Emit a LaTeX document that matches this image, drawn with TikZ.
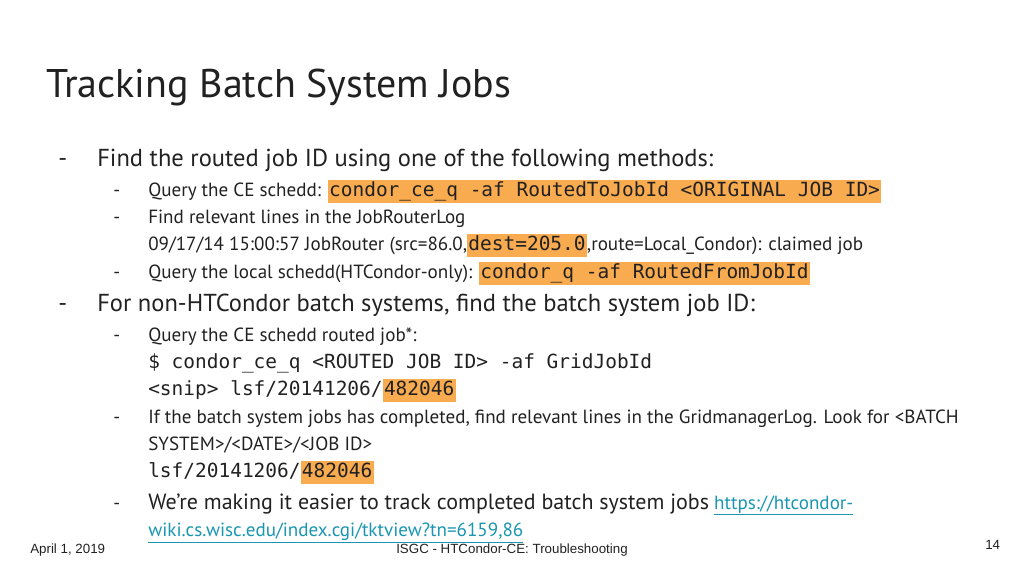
\documentclass[tikz,border=0pt]{standalone}
\usepackage{fontspec}
\setmainfont{PT Sans}
\setmonofont{DejaVu Sans Mono}
\newfontfamily\footfont{Liberation Sans}
\usetikzlibrary{positioning}
\definecolor{hilite}{RGB}{249,171,80}
\definecolor{linkcol}{RGB}{26,150,176}
\definecolor{titlecol}{RGB}{33,33,33}
\newcommand{\hl}[1]{{\setlength{\fboxsep}{1pt}\colorbox{hilite}{\strut#1}}}
\newcommand{\code}[1]{{\ttfamily\fontsize{14.6}{15}\selectfont #1}}
\newcommand{\us}{\symbol{95}}
\begin{document}
\begin{tikzpicture}[x=0.75pt,y=-0.75pt,
  lvlone/.style={anchor=base west, inner sep=0pt, font=\fontsize{18.4}{20}\selectfont, text=titlecol},
  lvltwo/.style={anchor=base west, inner sep=0pt, font=\fontsize{14.3}{15}\selectfont, text=titlecol},
  foot/.style={inner sep=0pt, font=\footfont\fontsize{10}{12}\selectfont, text=titlecol}]

  \useasboundingbox (0,0) rectangle (1024,576);

  % Title
  \node[anchor=base west, inner sep=0pt, font=\fontsize{30}{32}\selectfont, text=titlecol] (title) at (46,97) {Tracking Batch System Jobs};

  % First bullet
  \node[lvlone] (dashA) at (58,166) {-};
  \node[lvlone] (findid) at (97,166) {Find the routed job ID using one of the following methods:};
  \node[lvltwo] (dashA1) at (113,196) {-};
  \node[lvltwo] (queryce) at (148,196) {Query the CE schedd: \hl{\code{condor\us ce\us q -af RoutedToJobId <ORIGINAL JOB ID>}}};
  \node[lvltwo] (dashA2) at (113,223) {-};
  \node[lvltwo] (findlog) at (148,223) {Find relevant lines in the JobRouterLog};
  \node[lvltwo] (logline) at (148,250) {09/17/14 15:00:57 JobRouter (src=86.0,\hl{\code{dest=205.0}},route=Local\_Condor): claimed job};
  \node[lvltwo] (dashA3) at (113,278) {-};
  \node[lvltwo] (querylocal) at (148,278) {Query the local schedd(HTCondor-only): \hl{\code{condor\us q -af RoutedFromJobId}}};

  % Second bullet
  \node[lvlone] (dashB) at (58,311) {-};
  \node[lvlone] (nonht) at (97,311) {For non-HTCondor batch systems, find the batch system job ID:};
  \node[lvltwo] (dashB1) at (113,341) {-};
  \node[lvltwo] (queryrouted) at (148,341) {Query the CE schedd routed job*:};
  \node[lvltwo] (cmdline) at (148,368) {\code{\$ condor\us ce\us q <ROUTED JOB ID> -af GridJobId}};
  \node[lvltwo] (snipline) at (148,395) {\code{<snip> lsf/20141206/}\hl{\code{482046}}};
  \node[lvltwo] (dashB2) at (113,423) {-};
  \node[lvltwo] (gridlog) at (148,423) {If the batch system jobs has completed, find relevant lines in the GridmanagerLog. Look for <BATCH};
  \node[lvltwo] (gridlogb) at (148,450) {SYSTEM>/<DATE>/<JOB ID>};
  \node[lvltwo] (lsfline) at (148,477) {\code{lsf/20141206/}\hl{\code{482046}}};
  \node[lvltwo] (dashB3) at (113,509) {-};
  \node[lvltwo] (easier) at (148,509) {{\fontsize{16.5}{18}\selectfont We’re making it easier to track completed batch system jobs} \textcolor{linkcol}{\underline{https://htcondor-}}};
  \node[lvltwo] (linkrest) at (148,536) {\textcolor{linkcol}{\underline{wiki.cs.wisc.edu/index.cgi/tktview?tn=6159,86}}};

  % Footer
  \node[foot, anchor=base west] (date) at (30,553) {April 1, 2019};
  \node[foot, anchor=base] (confname) at (512,553) {ISGC - HTCondor-CE: Troubleshooting};
  \node[foot, anchor=base west] (pagenum) at (985,549) {14};
\end{tikzpicture}
\end{document}
